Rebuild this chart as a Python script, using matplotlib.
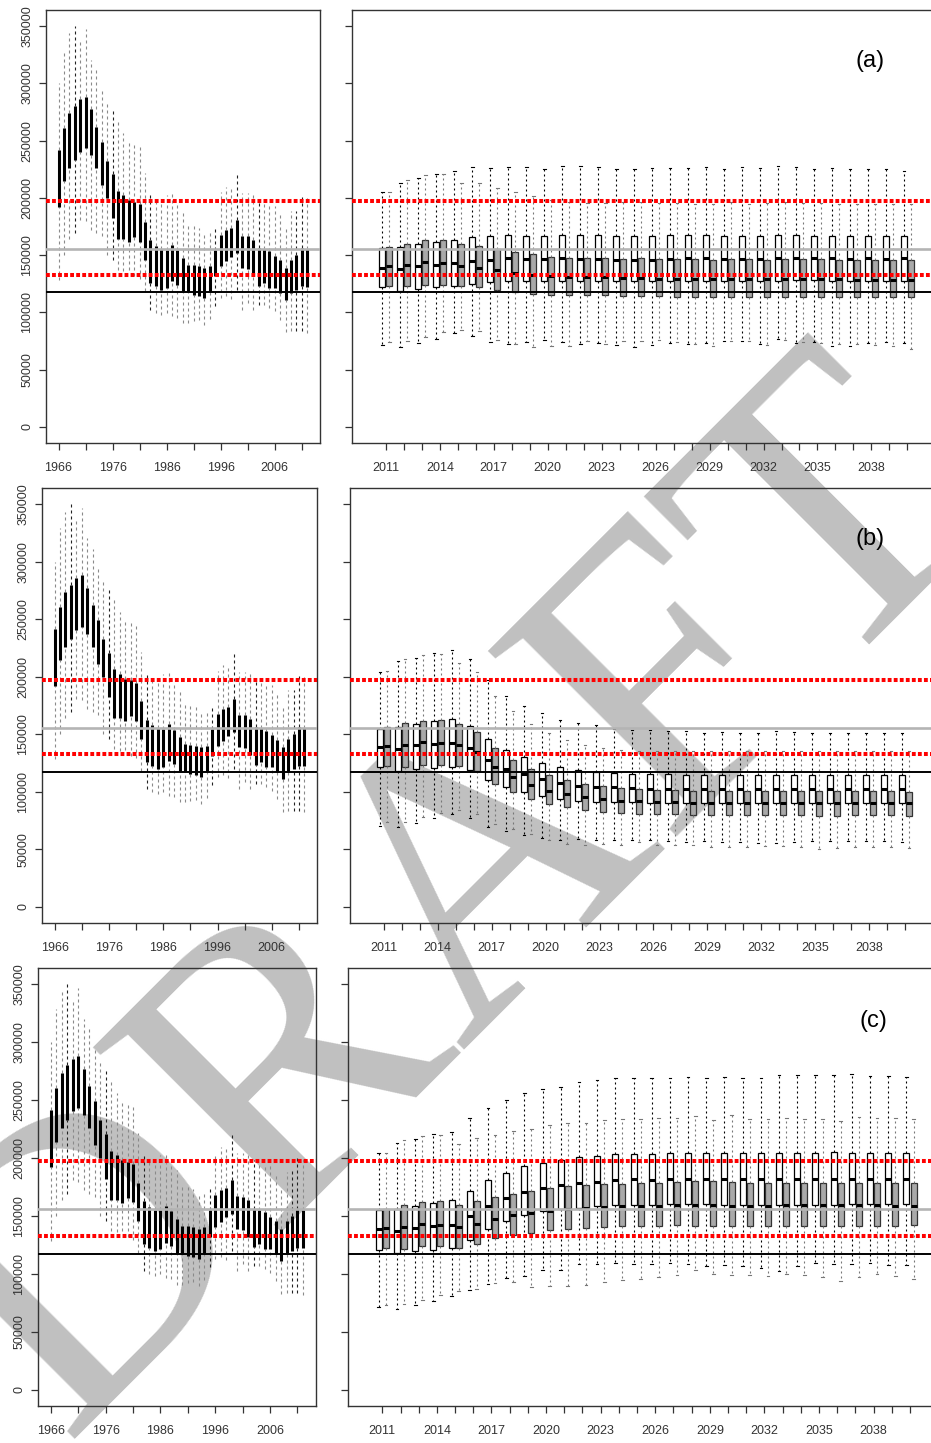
"""
Stock projections: historical boxplots (left) and two paired projection
scenarios per panel (right), with reference levels, three panels (a)-(c).
"""
import matplotlib
matplotlib.use("Agg")
import matplotlib.pyplot as plt
import numpy as np

plt.rcParams["font.family"] = ["Liberation Sans", "DejaVu Sans"]

W, H, DPI = 931, 1443, 100

# ── historical series (thousands), 1966-2012 ───────────────────────
HIST_YEARS = np.arange(1966, 2013)
HIST_Q3 = [241.9, 260.8, 273.8, 280.2, 286.0, 288.4, 277.3, 262.2, 249.1, 232.6,
           220.9, 206.4, 202.6, 198.3, 196.8, 194.8, 178.5, 162.8, 157.6, 155.2,
           154.7, 159.0, 154.1, 147.4, 141.6, 141.0, 140.1, 138.7, 140.1, 154.7,
           167.7, 172.1, 174.1, 180.8, 166.9, 166.3, 163.4, 156.1, 155.2, 153.2,
           149.4, 145.4, 138.7, 145.9, 150.3, 156.1, 155.2]
HIST_Q1 = [192.4, 214.3, 225.9, 233.1, 240.4, 243.3, 237.5, 225.9, 211.3, 199.7,
           182.3, 164.0, 164.0, 161.1, 165.7, 161.9, 145.9, 125.6, 122.7, 119.8,
           121.2, 127.0, 124.1, 118.3, 117.4, 115.4, 114.5, 112.5, 118.3, 131.4,
           140.1, 144.5, 148.8, 151.7, 138.7, 137.8, 132.0, 123.3, 125.6, 121.2,
           121.2, 116.9, 111.0, 116.9, 119.8, 122.7, 122.1]
HIST_HI = [300.0, 329.1, 343.6, 350.0, 337.8, 347.1, 320.4, 311.6, 294.2, 282.6,
           278.2, 268.0, 256.4, 249.1, 247.7, 244.8, 221.5, 202.6, 198.8, 198.3,
           202.6, 203.5, 195.4, 189.5, 177.3, 175.6, 173.5, 169.2, 171.5, 175.0,
           204.7, 209.9, 209.0, 222.1, 204.1, 204.1, 204.7, 198.3, 194.8, 193.9,
           193.0, 186.6, 175.0, 188.1, 188.9, 201.2, 201.7]
HIST_LO = [128.5, 150.3, 164.0, 169.2, 180.8, 179.4, 172.1, 169.2, 166.3, 150.3,
           145.9, 137.2, 135.8, 136.6, 131.4, 129.1, 118.3, 102.3, 99.4, 98.0,
           99.4, 96.5, 95.1, 90.7, 90.7, 92.2, 93.0, 89.2, 94.2, 105.8,
           112.5, 114.5, 111.6, 119.8, 102.3, 108.1, 102.3, 106.7, 106.7, 103.8,
           100.9, 93.6, 82.6, 83.4, 83.4, 83.4, 82.0]
HIST_DARK = [1969, 1976, 1983, 1995, 1999, 2003, 2010, 2011]

# ── projections (thousands), rows = (low, q1, median, q3, high) ────
PROJ_YEARS = np.arange(2011, 2041)

A_WHITE = [(71.2, 122.1, 139.2, 156.1, 204.7), (69.8, 118.3, 137.8, 157.0, 213.4),
           (73.3, 120.6, 140.7, 159.6, 217.2), (76.7, 121.8, 141.6, 161.3, 220.9),
           (82.0, 122.7, 143.0, 163.4, 223.5), (79.1, 125.0, 145.1, 165.7, 226.7),
           (74.1, 126.5, 145.9, 166.9, 226.5), (72.7, 127.0, 147.4, 167.4, 227.3),
           (74.1, 127.0, 146.5, 166.9, 226.7), (76.2, 127.6, 146.5, 166.9, 225.3),
           (74.1, 127.0, 147.1, 167.4, 227.9), (72.4, 127.0, 146.5, 167.4, 228.2),
           (73.3, 127.0, 146.5, 167.4, 227.3), (71.2, 127.0, 145.9, 166.9, 225.3),
           (69.5, 127.0, 145.9, 166.9, 225.0), (71.2, 127.0, 145.9, 166.9, 226.5),
           (73.3, 127.0, 146.5, 167.4, 226.5), (72.4, 127.6, 147.1, 167.4, 226.5),
           (73.3, 127.6, 147.1, 167.4, 227.3), (75.3, 127.0, 146.5, 166.9, 225.3),
           (74.7, 127.6, 146.5, 166.9, 226.7), (72.4, 127.6, 146.5, 166.9, 226.5),
           (76.7, 127.6, 147.1, 167.4, 228.2), (73.3, 128.5, 147.4, 167.7, 227.3),
           (74.1, 128.5, 147.1, 166.9, 225.0), (70.3, 127.6, 147.4, 166.9, 225.9),
           (70.3, 127.6, 146.5, 166.9, 225.3), (73.3, 127.6, 147.1, 166.9, 225.0),
           (74.1, 127.6, 146.5, 166.9, 225.0), (73.3, 127.6, 147.1, 166.9, 223.5)]
A_GRAY = [(73.8, 123.3, 140.1, 157.0, 204.9), (74.7, 122.7, 141.3, 159.9, 215.7),
          (78.5, 124.1, 143.9, 162.8, 220.1), (82.6, 124.1, 143.0, 163.4, 220.6),
          (84.9, 123.3, 140.7, 159.6, 213.4), (83.4, 121.8, 139.2, 158.1, 212.8),
          (76.2, 119.2, 136.6, 155.2, 209.0), (72.4, 117.4, 134.3, 152.9, 205.5),
          (69.5, 116.3, 132.3, 150.9, 201.2), (70.3, 115.4, 131.4, 148.8, 198.3),
          (70.3, 114.8, 130.8, 147.4, 196.8), (74.7, 114.8, 130.5, 147.4, 195.4),
          (72.4, 114.8, 130.5, 147.4, 195.9), (74.7, 114.0, 129.7, 146.8, 196.8),
          (75.0, 114.5, 129.9, 147.4, 196.0), (75.6, 114.0, 129.1, 146.8, 195.4),
          (74.1, 113.1, 129.1, 146.5, 195.4), (72.4, 113.1, 129.1, 146.5, 194.8),
          (70.3, 113.1, 129.1, 145.9, 194.8), (74.7, 113.1, 129.1, 146.5, 196.8),
          (75.3, 113.1, 129.1, 146.5, 194.8), (71.2, 113.1, 129.1, 145.9, 195.4),
          (76.2, 113.1, 129.1, 146.5, 196.8), (74.1, 113.1, 129.1, 146.5, 195.9),
          (73.3, 113.1, 129.1, 146.5, 195.9), (72.4, 113.1, 129.1, 145.9, 194.8),
          (72.4, 113.1, 128.5, 145.4, 194.8), (71.8, 113.1, 128.5, 145.4, 194.8),
          (70.3, 113.1, 127.9, 145.4, 194.8), (68.0, 113.1, 127.9, 145.9, 194.8)]

B_WHITE = [(70.5, 121.3, 138.7, 154.7, 204.0), (69.1, 117.8, 137.3, 156.1, 213.3),
           (72.6, 119.9, 140.2, 158.5, 216.5), (76.9, 120.7, 141.6, 161.1, 220.6),
           (80.7, 121.9, 142.5, 163.1, 222.9), (77.2, 119.0, 137.9, 157.3, 215.1),
           (69.1, 110.6, 128.0, 146.0, 197.6), (66.2, 104.5, 119.9, 136.4, 183.7),
           (62.7, 99.5, 115.5, 130.0, 174.4), (59.8, 96.1, 111.2, 125.1, 168.6),
           (58.3, 93.7, 107.7, 121.9, 162.8), (58.9, 91.7, 105.3, 119.0, 159.9),
           (58.0, 90.8, 104.5, 117.5, 157.6), (58.3, 90.8, 103.9, 116.4, 154.7),
           (58.0, 90.8, 103.3, 115.5, 154.1), (58.0, 90.0, 102.4, 115.5, 153.8),
           (57.5, 90.0, 102.4, 115.5, 152.7), (56.0, 90.0, 102.4, 114.9, 152.7),
           (56.9, 90.0, 102.4, 114.9, 151.2), (56.0, 90.0, 102.4, 114.9, 151.8),
           (56.0, 90.0, 102.4, 114.9, 150.9), (55.4, 90.0, 102.4, 114.9, 151.2),
           (55.4, 90.0, 102.4, 114.9, 152.7), (56.0, 90.0, 102.4, 114.9, 151.8),
           (57.5, 90.0, 102.4, 114.9, 151.2), (57.5, 90.0, 102.4, 114.9, 151.2),
           (56.9, 90.0, 102.4, 114.9, 151.2), (56.9, 90.0, 102.4, 114.9, 150.9),
           (56.9, 90.0, 102.4, 114.9, 150.9), (56.0, 90.0, 102.4, 114.9, 150.9)]
B_GRAY = [(73.4, 122.2, 139.6, 156.1, 204.6), (73.4, 121.9, 140.8, 159.6, 215.1),
          (77.8, 123.3, 143.1, 161.9, 219.1), (81.3, 122.8, 142.5, 162.5, 219.4),
          (84.2, 122.2, 140.2, 159.0, 212.2), (80.7, 118.4, 134.4, 151.8, 204.0),
          (72.0, 106.8, 121.3, 137.9, 183.1), (67.6, 99.5, 113.2, 127.7, 170.1),
          (63.3, 93.7, 106.2, 119.9, 158.5), (58.3, 89.4, 101.0, 114.1, 150.9),
          (54.6, 86.5, 98.1, 110.3, 145.1), (53.7, 84.2, 95.2, 106.8, 140.8),
          (54.6, 82.7, 93.7, 105.3, 138.1), (53.7, 81.3, 92.3, 103.3, 136.4),
          (56.0, 80.7, 91.7, 102.4, 135.2), (54.0, 80.7, 90.8, 101.6, 135.2),
          (54.0, 80.7, 90.8, 101.6, 135.2), (53.7, 80.1, 90.0, 101.0, 135.2),
          (52.2, 79.8, 90.0, 100.4, 135.2), (51.7, 79.8, 90.0, 100.4, 135.2),
          (51.7, 79.8, 90.0, 101.0, 135.2), (52.5, 79.8, 90.0, 101.0, 135.2),
          (52.5, 79.8, 90.0, 101.0, 135.2), (51.7, 79.8, 90.0, 101.0, 135.2),
          (50.2, 79.2, 90.0, 100.4, 135.2), (50.8, 79.2, 90.0, 100.4, 135.2),
          (52.2, 79.8, 90.0, 100.4, 135.2), (52.2, 79.8, 90.0, 100.4, 135.2),
          (52.2, 79.8, 90.0, 100.4, 135.2), (50.8, 79.2, 90.0, 99.5, 135.2)]

C_WHITE = [(71.4, 120.9, 139.0, 154.9, 204.4), (69.4, 118.0, 137.0, 156.3, 213.3),
           (72.8, 119.7, 139.9, 158.6, 216.7), (76.6, 120.9, 141.3, 161.2, 220.5),
           (80.9, 122.6, 141.9, 163.5, 222.5), (85.8, 128.9, 149.7, 171.5, 234.6),
           (91.5, 139.0, 158.6, 180.8, 243.5), (96.7, 145.6, 165.8, 187.4, 249.8),
           (97.9, 150.5, 170.7, 192.8, 256.2), (103.0, 154.0, 174.1, 196.0, 259.9),
           (103.6, 156.3, 176.4, 198.6, 261.3), (108.2, 157.2, 178.5, 200.9, 265.7),
           (108.8, 158.3, 179.3, 201.8, 267.7), (109.7, 159.2, 180.8, 203.8, 269.1),
           (108.2, 159.7, 181.6, 203.8, 269.1), (108.8, 159.7, 181.3, 203.8, 269.4),
           (109.7, 160.6, 182.2, 204.4, 269.4), (108.8, 160.6, 182.2, 204.6, 270.0),
           (106.8, 160.6, 181.6, 204.4, 269.1), (107.9, 159.7, 181.6, 204.6, 270.0),
           (106.5, 159.7, 181.6, 204.4, 269.4), (105.3, 159.7, 181.6, 204.4, 269.4),
           (102.2, 159.7, 181.6, 204.4, 271.4), (106.5, 159.7, 181.6, 204.6, 271.4),
           (109.4, 159.7, 181.6, 204.4, 271.4), (108.2, 159.7, 182.2, 205.2, 271.4),
           (108.2, 160.6, 182.2, 204.6, 272.3), (109.4, 160.6, 181.6, 204.6, 270.6),
           (107.4, 160.6, 181.6, 204.6, 270.6), (107.4, 160.6, 182.2, 204.6, 270.0)]
C_GRAY = [(73.4, 122.6, 139.9, 156.3, 204.4), (74.3, 121.8, 140.5, 159.2, 215.3),
          (77.7, 123.8, 143.3, 162.0, 219.0), (81.5, 123.8, 141.9, 162.6, 220.2),
          (84.9, 122.6, 140.5, 159.2, 212.4), (87.2, 126.1, 143.3, 162.6, 217.3),
          (92.4, 131.2, 147.7, 166.4, 220.2), (93.0, 133.8, 150.5, 169.2, 223.4),
          (88.7, 135.3, 152.8, 171.5, 225.4), (89.2, 137.6, 154.0, 174.1, 228.8),
          (89.2, 139.0, 156.3, 175.6, 230.6), (90.7, 139.6, 157.2, 176.4, 230.6),
          (93.0, 140.5, 157.7, 177.3, 232.6), (95.0, 141.0, 158.3, 177.9, 233.4),
          (95.8, 141.3, 158.3, 178.5, 234.0), (97.3, 141.3, 158.6, 178.7, 234.6),
          (98.7, 141.9, 159.2, 179.3, 234.6), (103.0, 141.3, 159.2, 179.9, 236.0),
          (100.2, 141.3, 159.2, 179.9, 233.1), (99.3, 141.3, 158.3, 179.3, 236.9),
          (99.3, 141.3, 158.3, 178.7, 234.0), (97.9, 141.3, 158.3, 178.5, 234.0),
          (100.2, 141.3, 159.2, 178.7, 234.6), (99.3, 141.3, 159.2, 178.7, 233.4),
          (97.3, 141.3, 159.2, 178.7, 234.0), (93.8, 141.3, 159.2, 178.5, 232.0),
          (97.3, 141.3, 159.2, 178.7, 235.4), (99.6, 141.3, 159.2, 178.7, 234.6),
          (97.9, 141.3, 158.6, 178.7, 234.6), (95.8, 141.9, 158.6, 178.7, 234.0)]

# reference levels
REF_BLACK = 117500
REF_GRAY = 155600
REF_RED = [132700, 197400]

# panel geometry in pixels: left x-range, right x-range, (top, bottom), label, label xy
PANELS = [
    ((45.7, 320.0), (352.3, 941.0), (10.0, 443.0), "(a)", (870, 61), A_WHITE, A_GRAY),
    ((41.7, 317.3), (350.0, 939.0), (488.3, 922.7), "(b)", (870, 539), B_WHITE, B_GRAY),
    ((37.7, 316.0), (348.3, 944.0), (968.3, 1405.7), "(c)", (873, 1021), C_WHITE, C_GRAY),
]

FRAME = "#333333"
YLIM = (-14000, 364000)


def add_px_axes(fig, xr, yr):
    x0, x1 = xr
    top, bot = yr
    return fig.add_axes([x0 / W, 1 - bot / H, (x1 - x0) / W, (bot - top) / H])


def style_frame(ax):
    ax.set_facecolor("none")
    for s in ax.spines.values():
        s.set_color(FRAME)
        s.set_linewidth(1.0)
    ax.tick_params(direction="out", length=5, width=0.9, color=FRAME,
                   labelcolor="#333333", labelsize=9)
    ax.set_ylim(*YLIM)
    ax.set_yticks(np.arange(0, 350001, 50000))


def ref_lines(ax):
    ax.axhline(REF_GRAY, color="#b4b4b4", lw=1.9, zorder=5)
    ax.axhline(REF_BLACK, color="black", lw=1.4, zorder=5)
    for r in REF_RED:
        ax.axhline(r, color="red", lw=2.9, ls=(0, (0.95, 0.55)), zorder=6)


def draw_history(ax):
    lo = np.array(HIST_LO) * 1000
    q1 = np.array(HIST_Q1) * 1000
    q3 = np.array(HIST_Q3) * 1000
    hi = np.array(HIST_HI) * 1000
    cols = ["#222222" if y in HIST_DARK else "#8a8a8a" for y in HIST_YEARS]
    ax.vlines(HIST_YEARS, q3, hi, colors=cols, lw=0.8, linestyles=(0, (2.7, 2.7)))
    ax.vlines(HIST_YEARS, lo, q1, colors=cols, lw=0.8, linestyles=(0, (2.7, 2.7)))
    ax.vlines(HIST_YEARS, q1, q3, colors="black", lw=2.2, zorder=3)
    ref_lines(ax)
    ax.set_xlim(1966 - 2.38, 2012 + 2.38)
    ticks = np.arange(1966, 2012, 5)
    ax.set_xticks(ticks)
    ax.set_xticklabels([str(t) if (t - 1966) % 10 == 0 else "" for t in ticks])
    ax.set_yticklabels([str(v) for v in range(0, 350001, 50000)],
                       rotation=90, va="center")
    ax.tick_params(axis="y", pad=4)
    ax.tick_params(axis="x", pad=9)


def stats(rows):
    return [dict(whislo=r[0] * 1000, q1=r[1] * 1000, med=r[2] * 1000,
                 q3=r[3] * 1000, whishi=r[4] * 1000) for r in rows]


def draw_projection(ax, white, gray):
    w = 0.33
    ax.bxp(stats(white), positions=PROJ_YEARS - 0.195, widths=w, capwidths=0.15,
           showfliers=False, patch_artist=True, manage_ticks=False,
           boxprops=dict(facecolor="white", edgecolor="black", lw=0.9),
           whiskerprops=dict(color="black", lw=0.8, ls=(0, (1.8, 2.7))),
           capprops=dict(color="black", lw=0.8),
           medianprops=dict(color="black", lw=2.2, solid_capstyle="butt"))
    ax.bxp(stats(gray), positions=PROJ_YEARS + 0.195, widths=w, capwidths=0.15,
           showfliers=False, patch_artist=True, manage_ticks=False,
           boxprops=dict(facecolor="#a9a9a9", edgecolor="#333333", lw=0.9),
           whiskerprops=dict(color="#777777", lw=0.8, ls=(0, (1.8, 2.7))),
           capprops=dict(color="#777777", lw=0.8),
           medianprops=dict(color="black", lw=2.2, solid_capstyle="butt"))
    ref_lines(ax)
    ax.set_xlim(2011 - 1.87, 2040 + 1.87)
    ax.set_xticks(PROJ_YEARS)
    ax.set_xticklabels([str(y) if (y - 2011) % 3 == 0 else "" for y in PROJ_YEARS])
    ax.tick_params(axis="y", labelleft=False)
    ax.tick_params(axis="x", pad=9)


fig = plt.figure(figsize=(W / DPI, H / DPI), dpi=DPI, facecolor="white")

# watermark sits underneath the (transparent) axes
fig.text(462 / W, 1 - 904 / H, "DRAFT", rotation=45, rotation_mode="anchor",
         ha="center", va="center", fontsize=290, color="#c0c0c0",
         family=["Liberation Serif", "DejaVu Serif"], zorder=-1)

for left_x, right_x, yr, label, (lx, ly), white, gray in PANELS:
    axl = add_px_axes(fig, left_x, yr)
    style_frame(axl)
    draw_history(axl)

    axr = add_px_axes(fig, right_x, yr)
    style_frame(axr)
    draw_projection(axr, white, gray)

    fig.text(lx / W, 1 - ly / H, label, ha="center", va="center",
             fontsize=17, color="black")

fig.savefig("out.png", dpi=DPI, facecolor="white")
